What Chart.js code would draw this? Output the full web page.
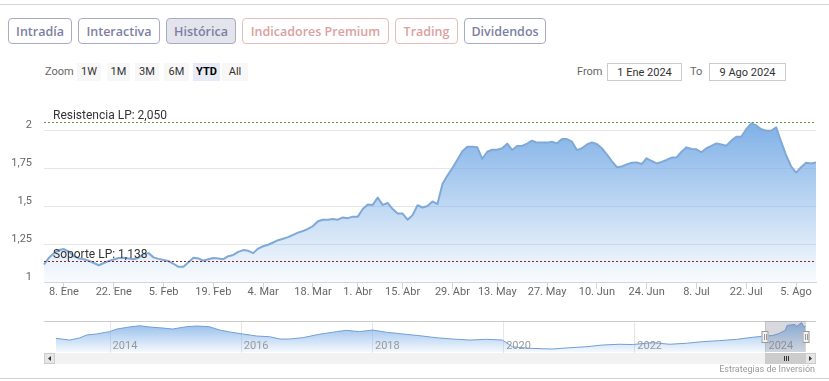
<!DOCTYPE html>
<html><head><meta charset="utf-8">
<script src="https://cdn.jsdelivr.net/npm/chart.js@4.4.1/dist/chart.umd.min.js"></script>
<style>
html,body{margin:0;padding:0;background:#fff;}
body{width:829px;height:381px;position:relative;overflow:hidden;font-family:'Liberation Sans Narrow','Roboto',sans-serif;}
.hline{position:absolute;left:0;width:829px;height:1px;background:#d4d4dc;}
.btn{position:absolute;top:18px;height:26px;border:1px solid #a9abc4;border-radius:4px;box-sizing:border-box;display:flex;align-items:center;justify-content:center;font-family:'Open Sans',sans-serif;font-weight:600;font-size:12.5px;color:#7c7fa3;white-space:nowrap;}
.btn.active{background:#e3e4ec;}
.btn.prem{border-color:#e6bcbc;color:#dba0a0;}
.lbl{position:absolute;font-size:11px;color:#666;line-height:18px;top:63px;}
.rs{position:absolute;top:63px;height:18px;line-height:18px;font-size:11px;color:#333;background:#f7f7f7;text-align:center;}
.rs.sel{background:#e6ebf5;font-weight:bold;color:#000;}
.inp{position:absolute;top:63px;height:18px;line-height:17px;box-sizing:border-box;border:1px solid #cccccc;font-size:11px;color:#333;text-align:center;background:#fff;}
canvas{position:absolute;left:0;}
.credit{position:absolute;right:14px;top:363px;font-size:9px;color:#999;line-height:12px;}
</style>
</head><body>
<div class="hline" style="top:4px"></div>
<div class="btn" style="left:8px;width:64px">Intradía</div>
<div class="btn" style="left:78px;width:82px">Interactiva</div>
<div class="btn active" style="left:166px;width:70px">Histórica</div>
<div class="btn prem" style="left:242px;width:147px">Indicadores Premium</div>
<div class="btn prem" style="left:395px;width:63px">Trading</div>
<div class="btn" style="left:464px;width:82px">Dividendos</div>

<div class="lbl" style="left:45px">Zoom</div>
<div class="rs" style="left:77px;width:24px">1W</div>
<div class="rs" style="left:107px;width:23px">1M</div>
<div class="rs" style="left:135px;width:24px">3M</div>
<div class="rs" style="left:164px;width:25px">6M</div>
<div class="rs sel" style="left:193px;width:27px">YTD</div>
<div class="rs" style="left:222px;width:26px">All</div>
<div class="lbl" style="left:577px">From</div>
<div class="inp" style="left:607px;width:75px">1 Ene 2024</div>
<div class="lbl" style="left:690px">To</div>
<div class="inp" style="left:709px;width:77px">9 Ago 2024</div>

<canvas id="main" width="829" height="305" style="top:0"></canvas>
<canvas id="nav" width="829" height="52" style="top:315px"></canvas>
<div class="credit">Estrategias de Inversión</div>
<div class="hline" style="top:378px;background:#cfcfd8"></div>

<script>
// ---- data ----
const firstDay = '2024-01-02';
const lastDay = '2024-08-09';
const holidays = ['2024-01-01','2024-03-29','2024-04-01','2024-05-01'];
const prices = [
1.115,1.16,1.19,1.21,1.217,1.20,1.17,1.155,1.15,1.14,
1.125,1.11,1.125,1.138,1.148,1.158,1.16,1.155,1.15,1.16,
1.185,1.19,1.162,1.152,1.145,1.138,1.12,1.10,1.10,1.13,
1.16,1.155,1.14,1.15,1.158,1.155,1.15,1.17,1.178,1.198,
1.21,1.205,1.19,1.22,1.235,1.245,1.26,1.275,1.285,1.295,
1.31,1.325,1.335,1.35,1.368,1.40,1.41,1.41,1.415,1.41,
1.425,1.42,1.43,1.43,1.48,1.51,1.507,1.555,1.507,1.52,
1.48,1.45,1.45,1.41,1.44,1.505,1.49,1.50,1.53,1.513,
1.645,1.70,1.75,1.805,1.86,1.89,1.89,1.886,1.81,1.857,
1.87,1.87,1.88,1.91,1.868,1.895,1.895,1.91,1.93,1.917,
1.917,1.917,1.923,1.912,1.94,1.94,1.923,1.868,1.88,1.905,
1.918,1.908,1.88,1.84,1.796,1.755,1.76,1.774,1.785,1.787,
1.776,1.814,1.796,1.78,1.79,1.803,1.818,1.82,1.857,1.886,
1.875,1.873,1.853,1.88,1.895,1.912,1.905,1.897,1.93,1.956,
1.956,2.005,2.044,2.03,2.005,1.995,1.995,2.018,1.923,1.835,
1.76,1.72,1.755,1.785,1.78,1.787];
const xTickDates = ['2024-01-08','2024-01-22','2024-02-05','2024-02-19','2024-03-04','2024-03-18','2024-04-02','2024-04-15','2024-04-29','2024-05-13','2024-05-27','2024-06-10','2024-06-24','2024-07-08','2024-07-22','2024-08-05'];
const xTickLabels = ['8. Ene','22. Ene','5. Feb','19. Feb','4. Mar','18. Mar','1. Abr','15. Abr','29. Abr','13. May','27. May','10. Jun','24. Jun','8. Jul','22. Jul','5. Ago'];
const yTickValues = [1,1.25,1.5,1.75,2];
const yTickLabels = ['1','1,25','1,5','1,75','2'];
const levelValues = [2.05, 1.138];
const levelLabels = ['Resistencia LP: 2,050','Soporte LP: 1,138'];
const levelColors = ['#5f9a45','#8a2424'];

const navYears = [2013.18,2013.39,2013.54,2013.65,2013.80,2014.0,2014.11,2014.30,2014.46,2014.61,2014.81,2014.96,2015.17,2015.33,2015.52,2015.68,2015.83,2016.03,2016.24,2016.44,2016.6,2016.74,2016.94,2017.20,2017.46,2017.61,2017.81,2018.01,2018.22,2018.47,2018.73,2018.98,2019.23,2019.49,2019.75,2019.99,2020.14,2020.40,2020.75,2021.01,2021.27,2021.52,2021.77,2021.97,2022.28,2022.54,2022.80,2023.04,2023.30,2023.56,2023.80,2024.0,2024.11,2024.2,2024.26,2024.30,2024.33,2024.45,2024.47,2024.55,2024.58,2024.61];
const navValues = [0.96,0.84,0.98,1.19,1.26,1.42,1.60,1.74,1.83,1.74,1.67,1.60,1.76,1.81,1.76,1.53,1.40,1.26,1.12,1.07,0.91,0.91,1.00,1.24,1.42,1.51,1.42,1.53,1.38,1.26,1.14,1.00,0.91,0.84,0.89,0.84,0.38,0.27,0.22,0.31,0.38,0.50,0.55,0.53,0.66,0.55,0.62,0.73,0.80,0.89,1.03,1.12,1.15,1.28,1.42,1.50,1.85,1.92,1.78,2.04,1.78,1.79];
const navTickYears = [2014,2016,2018,2020,2022,2024];
const navTickLabels = ['2014','2016','2018','2020','2022','2024'];
const navSelection = [2024.0, 2024.61];

// trading-day calendar for the category axis
function tradingDays(){
  const out = [];
  const d = new Date(firstDay + 'T00:00:00Z');
  const end = new Date(lastDay + 'T00:00:00Z');
  while (d <= end){
    const s = d.toISOString().slice(0,10);
    const wd = d.getUTCDay();
    if (wd !== 0 && wd !== 6 && !holidays.includes(s)) out.push(s);
    d.setUTCDate(d.getUTCDate()+1);
  }
  return out;
}
const dates = tradingDays();

const FONT = "'Liberation Sans Narrow', Roboto, sans-serif";
Chart.defaults.font.family = FONT;
Chart.defaults.color = '#666';

function areaGradient(ctx, top, bottom, a0, a1){
  const g = ctx.createLinearGradient(0, top, 0, bottom);
  g.addColorStop(0, 'rgba(120,172,230,' + a0 + ')');
  g.addColorStop(1, 'rgba(120,172,230,' + a1 + ')');
  return g;
}

const levelPlugin = {
  id: 'levels',
  afterDatasetsDraw(chart){
    const {ctx, chartArea: a, scales: {y}} = chart;
    levelValues.forEach((v, i) => {
      const py = Math.round(y.getPixelForValue(v)) + 0.5;
      ctx.save();
      ctx.strokeStyle = levelColors[i];
      ctx.lineWidth = 1;
      ctx.setLineDash([2, 2]);
      ctx.beginPath(); ctx.moveTo(a.left, py); ctx.lineTo(a.right, py); ctx.stroke();
      ctx.setLineDash([]);
      ctx.fillStyle = '#333';
      ctx.font = '12px ' + FONT;
      ctx.textBaseline = 'middle';
      ctx.fillText(levelLabels[i], a.left + 9, py - 6.5);
      ctx.restore();
    });
  }
};

new Chart(document.getElementById('main'), {
  type: 'line',
  data: {
    labels: dates,
    datasets: [{
      data: prices,
      borderColor: '#7fa9d6',
      borderWidth: 2,
      pointRadius: 0,
      tension: 0,
      borderJoinStyle: 'round',
      fill: 'start',
      backgroundColor: (c) => {
        const ch = c.chart; if (!ch.chartArea) return 'rgba(120,172,230,0.5)';
        return areaGradient(ch.ctx, ch.scales.y.getPixelForValue(2.05), ch.chartArea.bottom, 0.95, 0.04);
      }
    }]
  },
  options: {
    responsive: false,
    animation: false,
    layout: {padding: {left: 0, right: 13, top: 100, bottom: 0}},
    plugins: {legend: {display: false}, tooltip: {enabled: false}},
    scales: {
      x: {
        type: 'category',
        offset: false,
        afterFit(s){ s.height = 23; },
        afterBuildTicks(s){ s.ticks = xTickDates.map(d => ({value: dates.indexOf(d)})); },
        ticks: {
          autoSkip: false, maxRotation: 0, padding: -3,
          font: {size: 11}, color: '#666',
          callback(v){ const k = xTickDates.indexOf(dates[v]); return k >= 0 ? xTickLabels[k] : ''; }
        },
        grid: {drawOnChartArea: false, drawTicks: true, tickLength: 7, tickColor: '#ccd6eb'},
        border: {display: true, color: '#ccd6eb'}
      },
      y: {
        type: 'linear', min: 1, max: 2.1974,
        afterFit(s){ s.width = 44; },
        afterBuildTicks(s){ s.ticks = yTickValues.map(v => ({value: v})); },
        ticks: {
          padding: 12, labelOffset: -5, font: {size: 11}, color: '#666',
          callback(v){ const k = yTickValues.indexOf(v); return k >= 0 ? yTickLabels[k] : ''; }
        },
        grid: {color: '#e6e6e6', drawTicks: false},
        border: {display: false}
      }
    }
  },
  plugins: [levelPlugin]
});

// ---- navigator ----
const navPlugin = {
  id: 'navDecor',
  beforeDatasetsDraw(chart){
    const {ctx, chartArea: a, scales: {x}} = chart;
    ctx.save();
    ctx.strokeStyle = '#e6e6e6'; ctx.lineWidth = 1;
    navTickYears.forEach(yr => {
      const px = Math.round(x.getPixelForValue(yr)) + 0.5;
      ctx.beginPath(); ctx.moveTo(px, a.top); ctx.lineTo(px, a.bottom + 1); ctx.stroke();
    });
    ctx.restore();
  },
  afterDatasetsDraw(chart){
    const {ctx, chartArea: a, scales: {x}} = chart;
    ctx.save();
    // year labels
    ctx.fillStyle = '#999'; ctx.font = '11px ' + FONT; ctx.textBaseline = 'middle';
    navTickYears.forEach((yr, i) => {
      ctx.fillText(navTickLabels[i], x.getPixelForValue(yr) + 3, a.bottom - 6);
    });
    // top outline
    ctx.strokeStyle = '#cccccc';
    ctx.beginPath(); ctx.moveTo(a.left, a.top + 0.5); ctx.lineTo(a.right, a.top + 0.5); ctx.stroke();
    // mask
    const s0 = Math.round(x.getPixelForValue(navSelection[0]));
    const s1 = Math.round(x.getPixelForValue(navSelection[1]));
    ctx.fillStyle = 'rgba(110,120,140,0.28)';
    ctx.fillRect(s0, a.top, s1 - s0, a.bottom - a.top);
    // scrollbar
    const sy = a.bottom + 1, sh = 11;
    ctx.fillStyle = '#f2f2f2';
    ctx.fillRect(a.left, sy, a.right - a.left, sh);
    [[a.left, -1], [a.right - 11, 1]].forEach(([bx, dir]) => {
      ctx.fillStyle = '#e6e6e6'; ctx.fillRect(bx, sy, 11, sh);
      ctx.strokeStyle = '#cccccc'; ctx.strokeRect(bx + 0.5, sy + 0.5, 10, sh - 1);
      ctx.fillStyle = '#333';
      const cx = bx + 5.5, cy = sy + sh / 2;
      ctx.beginPath();
      ctx.moveTo(cx + dir * 1.5, cy); ctx.lineTo(cx - dir * 1.5, cy - 2.5); ctx.lineTo(cx - dir * 1.5, cy + 2.5);
      ctx.closePath(); ctx.fill();
    });
    ctx.fillStyle = '#cccccc'; ctx.fillRect(s0, sy, s1 - s0, sh);
    ctx.strokeStyle = '#333'; ctx.lineWidth = 1;
    const gc = Math.round((s0 + s1) / 2);
    [-2, 0, 2].forEach(o => {
      ctx.beginPath(); ctx.moveTo(gc + o + 0.5, sy + 3); ctx.lineTo(gc + o + 0.5, sy + 8); ctx.stroke();
    });
    // handles
    [s0, s1].forEach(hx => {
      const hy = a.top + 10;
      ctx.fillStyle = '#f2f2f2'; ctx.fillRect(hx - 3.5, hy, 7, 12);
      ctx.strokeStyle = '#999'; ctx.strokeRect(hx - 3.5 + 0.5, hy + 0.5, 6, 11);
      ctx.beginPath();
      ctx.moveTo(hx - 0.5, hy + 3); ctx.lineTo(hx - 0.5, hy + 9);
      ctx.moveTo(hx + 1.5, hy + 3); ctx.lineTo(hx + 1.5, hy + 9);
      ctx.stroke();
    });
    ctx.restore();
  }
};

new Chart(document.getElementById('nav'), {
  type: 'line',
  data: {
    datasets: [{
      data: navYears.map((yr, i) => ({x: yr, y: navValues[i]})),
      borderColor: '#6f9fd6',
      borderWidth: 1,
      pointRadius: 0,
      tension: 0,
      fill: 'start',
      backgroundColor: (c) => {
        const ch = c.chart; if (!ch.chartArea) return 'rgba(120,172,230,0.4)';
        return areaGradient(ch.ctx, ch.chartArea.top, ch.chartArea.bottom, 0.85, 0.08);
      }
    }]
  },
  options: {
    responsive: false,
    animation: false,
    layout: {padding: {left: 44, right: 13, top: 6, bottom: 15}},
    plugins: {legend: {display: false}, tooltip: {enabled: false}},
    scales: {
      x: {type: 'linear', min: 2013.0, max: 2024.77, display: false},
      y: {type: 'linear', min: 0.016, max: 2.155, display: false}
    }
  },
  plugins: [navPlugin]
});
</script>
</body></html>
